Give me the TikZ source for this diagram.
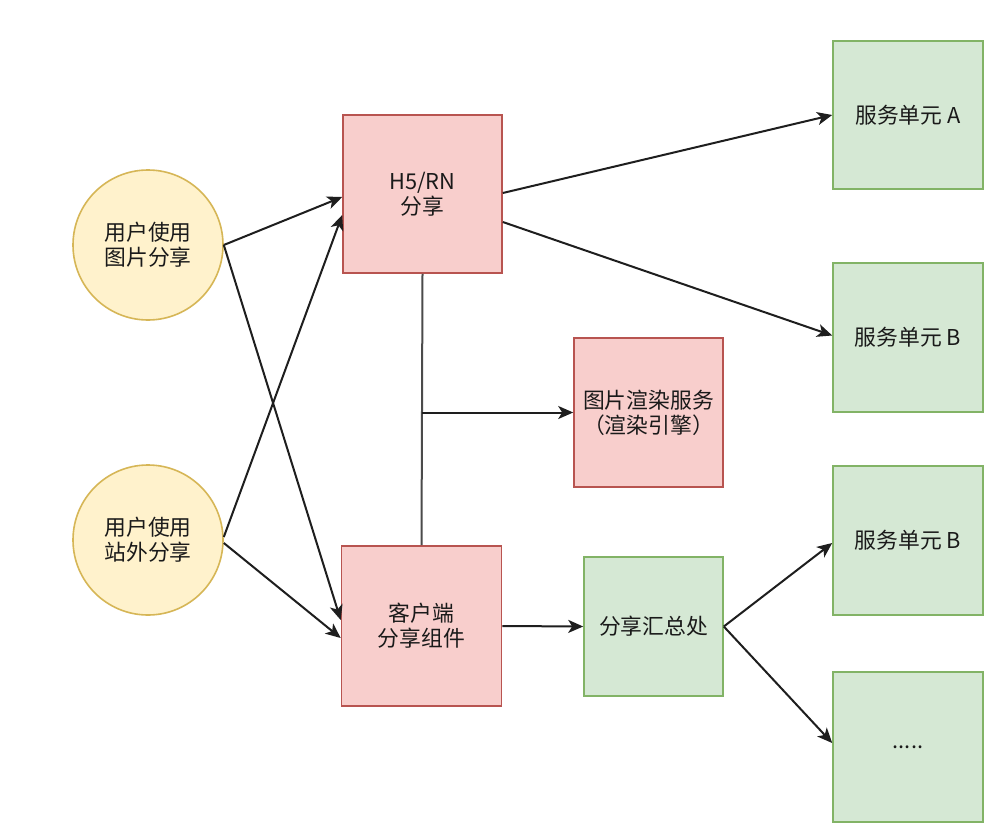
\documentclass[tikz,border=0pt]{standalone}
\usepackage{fontspec}
\setmainfont{Noto Sans CJK SC}
\usetikzlibrary{arrows.meta,calc}
\definecolor{pinkfill}{HTML}{F8CECC}
\definecolor{pinkline}{HTML}{B85450}
\definecolor{greenfill}{HTML}{D5E8D4}
\definecolor{greenline}{HTML}{82B366}
\definecolor{yellowfill}{HTML}{FFF2CC}
\definecolor{yellowline}{HTML}{D6B656}
\definecolor{edgecol}{HTML}{1E1E1E}
\definecolor{txtcol}{HTML}{1A1A1A}
\tikzset{
  base/.style={inner sep=0pt, align=center, text=txtcol,
    font=\fontsize{21.8pt}{25pt}\selectfont, line width=1.6pt},
  pinkbox/.style={base, draw=pinkline, fill=pinkfill, rectangle},
  greenbox/.style={base, draw=greenline, fill=greenfill, rectangle},
  usercircle/.style={base, draw=yellowline, fill=yellowfill, circle, minimum size=150pt},
  conn/.style={draw=edgecol, line width=2pt, -{Stealth[length=15pt,width=13pt,inset=4pt]}},
  plainconn/.style={draw=edgecol!80!white, line width=2pt}
}
\begin{document}
\begin{tikzpicture}[x=1pt,y=-1pt]
\useasboundingbox (0,0) rectangle (1000,829);
\fill[white] (0,0) rectangle (1000,829);

\node[usercircle] (c1) at (148,245) {用户使用\\图片分享};
\node[usercircle] (c2) at (148,540) {用户使用\\站外分享};

\node[pinkbox, minimum width=159pt, minimum height=158pt] (h5) at (422.5,194) {H5/RN\\分享};
\node[pinkbox, minimum width=160pt, minimum height=160pt] (client) at (421.5,626) {客户端\\分享组件};
\node[pinkbox, minimum width=149pt, minimum height=149pt] (render) at (648.5,412.5) {图片渲染服务\\（渲染引擎）};
\node[greenbox, minimum width=139pt, minimum height=139pt] (hub) at (653.5,626.5) {分享汇总处};

\node[greenbox, minimum width=150pt, minimum height=148pt] (sa) at (908,115) {服务单元 A};
\node[greenbox, minimum width=150pt, minimum height=149pt] (sb) at (908,337.5) {服务单元 B};
\node[greenbox, minimum width=150pt, minimum height=149pt] (sb2) at (908,540.5) {服务单元 B};
\node[greenbox, minimum width=150pt, minimum height=150pt] (sdots) at (908,747) {.....};

% user edges
\draw[conn] (c1.east) -- ($(h5.west)+(0,3)$);
\draw[conn] (c1.east) -- ($(client.west)+(0,-6)$);
\draw[conn] ($(c2.east)+(0,-3)$) -- ($(h5.west)+(0,21)$);
\draw[conn] ($(c2.east)+(0,3)$) -- ($(client.west)+(0,12)$);

% h5 to service units
\draw[conn] ($(h5.east)+(0,-1)$) -- (sa.west);
\draw[conn] ($(h5.east)+(0,28)$) -- ($(sb.west)+(0,-2)$);

% vertical link and branch
\coordinate (branch) at ($(h5.south)!0.5!(client.north)$);
\coordinate (br) at (branch |- render.west);
\draw[plainconn] (h5.south) -- (client.north);
\draw[conn] (br) -- (render.west);

% client to hub
\draw[conn] (client.east) -- (hub.west);

% hub to units
\draw[conn] (hub.east) -- ($(sb2.west)+(0,2.5)$);
\draw[conn] (hub.east) -- ($(sdots.west)+(0,-4)$);
\end{tikzpicture}
\end{document}
